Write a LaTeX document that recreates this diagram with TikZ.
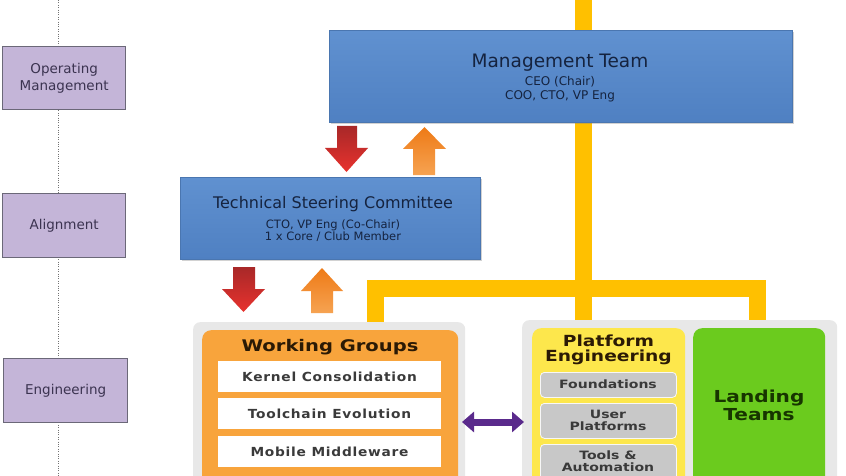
\documentclass[tikz,border=0pt]{standalone}
\usepackage{fontspec}
\setmainfont{DejaVu Sans}
\newfontface\boldw[FakeStretch=1.22]{DejaVu Sans Bold}
\newfontface\boldlt[FakeStretch=1.1,LetterSpace=6]{DejaVu Sans Bold}
\usetikzlibrary{shadows,arrows.meta}
\definecolor{purpfill}{HTML}{C4B5D8}
\definecolor{purpdraw}{HTML}{6B6878}
\definecolor{purptext}{HTML}{3B3350}
\definecolor{bluetop}{HTML}{6091D0}
\definecolor{bluebot}{HTML}{4F80C2}
\definecolor{blueline}{HTML}{4A76B0}
\definecolor{bluetext}{HTML}{15233F}
\definecolor{yel}{HTML}{FFC000}
\definecolor{panel}{HTML}{E8E8E8}
\definecolor{orng}{HTML}{F8A43C}
\definecolor{wgtext}{HTML}{2B1A05}
\definecolor{pyel}{HTML}{FDE74C}
\definecolor{grn}{HTML}{6BCB1E}
\definecolor{grntext}{HTML}{173500}
\definecolor{subgray}{HTML}{C8C8C8}
\definecolor{subtext}{HTML}{3A3A3A}
\definecolor{purparrow}{HTML}{5A2A8C}
\definecolor{redtop}{HTML}{A82828}
\definecolor{redbot}{HTML}{E8322E}
\definecolor{ortop}{HTML}{EE7A16}
\definecolor{orbot}{HTML}{F6A352}
\begin{document}
\begin{tikzpicture}[x=1pt,y=-1pt,
  lvl/.style={draw=purpdraw, line width=1.3pt, fill=purpfill, text=purptext, align=center,
    inner sep=0pt, anchor=north west, font=\fontsize{13.5}{16.5}\selectfont},
  bluebox/.style={draw=blueline, line width=0.6pt, top color=bluetop, bottom color=bluebot,
    inner sep=0pt, anchor=north west, drop shadow={opacity=0.35, shadow xshift=2pt, shadow yshift=-2pt}},
  bluetitle/.style={anchor=base, text=bluetext, inner sep=0pt},
  yline/.style={draw=yel, line width=17pt},
  panelbox/.style={fill=panel, rounded corners=7pt, inner sep=0pt, anchor=north west},
  whitebox/.style={fill=white, inner sep=0pt, anchor=north west, minimum width=223, minimum height=31},
  whitetext/.style={anchor=base, text=subtext, inner sep=0pt, font=\boldlt\fontsize{12.5}{14}\selectfont},
  graybox/.style={fill=subgray, draw=white!85!subgray, line width=0.8pt, rounded corners=4pt, inner sep=0pt, anchor=north west, minimum width=136},
  graytext/.style={anchor=base, text=subtext, inner sep=0pt, font=\boldw\fontsize{11.5}{12}\selectfont},
  headtext/.style={anchor=base, inner sep=0pt},
  dotline/.style={draw=black!55, line width=0.8pt, dash pattern=on 0.8pt off 1.6pt},
  redarrow/.style={top color=redtop, bottom color=redbot},
  orarrow/.style={top color=ortop, bottom color=orbot}
]
\useasboundingbox (0,0) rectangle (846,476);
\clip (0,0) rectangle (846,476);
\fill[white] (0,0) rectangle (846,476);

% dotted level line
\coordinate (dtop) at (58,0);
\coordinate (dbot) at (58,476);
\draw[dotline] (dtop) -- (dbot);

% level boxes
\node[lvl, minimum width=123, minimum height=63] (om) at (2,46) {Operating\\Management};
\node[lvl, minimum width=123, minimum height=64] (al) at (2,193) {Alignment};
\node[lvl, minimum width=124, minimum height=64] (en) at (3,358) {Engineering};

% yellow connectors
\coordinate (ytop) at (583,-10);
\coordinate (ymid) at (583,322);
\coordinate (yl) at (375,322);
\coordinate (yr) at (757,322);
\draw[yline] (ytop) -- (ymid);
\draw[yline, line join=miter] (yl) -- (375,288.5) -- (757,288.5) -- (yr);

% management team
\node[bluebox, minimum width=463, minimum height=92] (mt) at (329,30) {};
\node[bluetitle, font=\fontsize{18.5}{20}\selectfont] (mtt) at (560,68) {Management Team};
\node[bluetitle, font=\fontsize{12}{13}\selectfont] (mts1) at (560,85.5) {CEO (Chair)};
\node[bluetitle, font=\fontsize{12}{13}\selectfont] (mts2) at (560,99.5) {COO, CTO, VP Eng};

% technical steering committee
\node[bluebox, minimum width=300, minimum height=82] (tsc) at (180,177) {};
\node[bluetitle, font=\fontsize{16}{18}\selectfont] (tsct) at (333,208) {Technical Steering Committee};
\node[bluetitle, font=\fontsize{11.5}{13}\selectfont] (tscs1) at (333,228) {CTO, VP Eng (Co-Chair)};
\node[bluetitle, font=\fontsize{11.5}{13}\selectfont] (tscs2) at (333,240.5) {1 x Core / Club Member};

% block arrows MT <-> TSC
\shade[redarrow] (337,126) -- (357,126) -- (357,148) -- (368,148) -- (346.5,172) -- (325,148) -- (337,148) -- cycle;
\shade[orarrow] (413,175) -- (435,175) -- (435,149) -- (446,149) -- (424.5,127) -- (403,149) -- (413,149) -- cycle;
% block arrows TSC <-> WG
\shade[redarrow] (233,267) -- (255,267) -- (255,289) -- (265,289) -- (243.5,312) -- (222,289) -- (233,289) -- cycle;
\shade[orarrow] (311,313) -- (333,313) -- (333,291) -- (343,291) -- (322,268) -- (301,291) -- (311,291) -- cycle;

% panels
\node[panelbox, minimum width=272, minimum height=170] (lp) at (193,322) {};
\node[panelbox, minimum width=315, minimum height=172] (rp) at (522,320) {};

% working groups
\node[panelbox, fill=orng, rounded corners=9pt, minimum width=256, minimum height=160] (wg) at (202,330) {};
\node[headtext, text=wgtext, font=\boldw\fontsize{16}{18}\selectfont] (wgt) at (330,351) {Working Groups};
\node[whitebox] (k) at (218,361) {};
\node[whitetext] (kt) at (329.5,381) {Kernel Consolidation};
\node[whitebox] (t) at (218,398) {};
\node[whitetext] (tt) at (329.5,418) {Toolchain Evolution};
\node[whitebox] (m) at (218,436) {};
\node[whitetext] (mt2) at (329.5,456) {Mobile Middleware};

% platform engineering
\node[panelbox, fill=pyel, rounded corners=9pt, minimum width=153, minimum height=170] (pe) at (532,328) {};
\node[headtext, text=wgtext, font=\boldw\fontsize{15.3}{16}\selectfont] (pet1) at (608.5,346) {Platform};
\node[headtext, text=wgtext, font=\boldw\fontsize{15.3}{16}\selectfont] (pet2) at (608.5,361.5) {Engineering};
\node[graybox, minimum height=25] (f) at (540,372) {};
\node[graytext] (ft) at (608,388.5) {Foundations};
\node[graybox, minimum height=35] (u) at (540,403) {};
\node[graytext] (ut1) at (608,418.5) {User};
\node[graytext] (ut2) at (608,430.5) {Platforms};
\node[graybox, minimum height=50] (ta) at (540,444) {};
\node[graytext] (tat1) at (608,459) {Tools \&};
\node[graytext] (tat2) at (608,471) {Automation};

% landing teams
\node[panelbox, fill=grn, rounded corners=9pt, minimum width=132, minimum height=170] (lt) at (693,328) {};
\node[headtext, text=grntext, font=\boldw\fontsize{16.5}{18}\selectfont] (ltt1) at (759,402.5) {Landing};
\node[headtext, text=grntext, font=\boldw\fontsize{16.5}{18}\selectfont] (ltt2) at (759,420) {Teams};

% purple double arrow between working groups and platform engineering
\coordinate (pa1) at (462,422);
\coordinate (pa2) at (524,422);
\draw[purparrow, line width=7pt, {Triangle[length=12pt,width=20pt]}-{Triangle[length=12pt,width=20pt]}] (pa1) -- (pa2);
\end{tikzpicture}
\end{document}
